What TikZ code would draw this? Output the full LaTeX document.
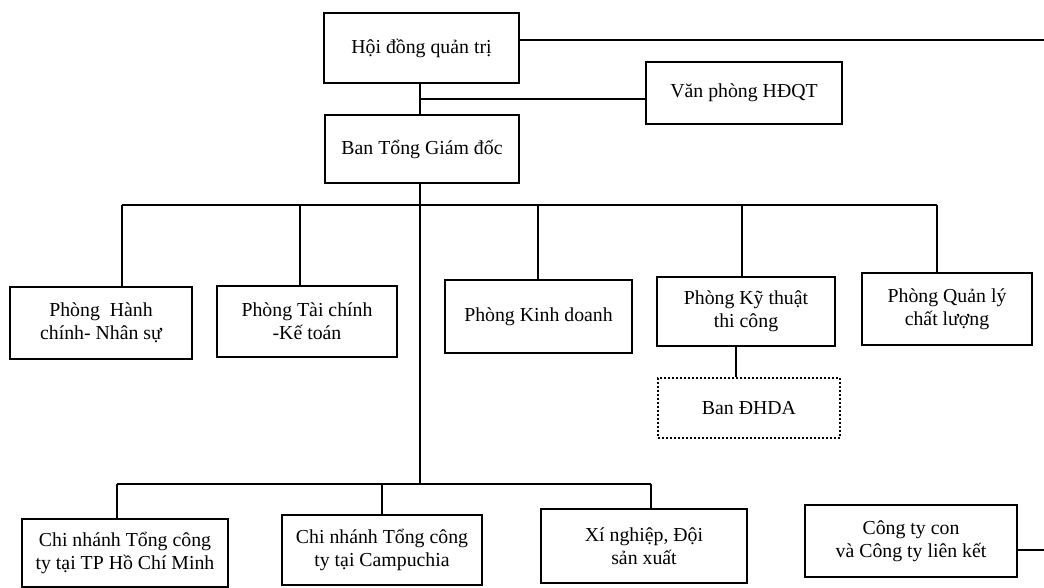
\documentclass[tikz,border=0pt]{standalone}
\usepackage{fontspec}
\setmainfont{Liberation Serif}
\begin{document}
\begin{tikzpicture}[x=1pt,y=-1pt,
  box/.style={draw=black, line width=1.7pt, rectangle, inner sep=0pt, align=center,
    font=\fontsize{19.8}{23}\selectfont, text=black},
  dotbox/.style={box, dash pattern=on 1.8pt off 2.2pt, line width=2.2pt},
  conn/.style={draw=black, line width=1.5pt}]
\fill[white] (0,0) rectangle (1044,588);
\useasboundingbox (0,0) rectangle (1044,588);

% boxes
\node[box, minimum width=195pt, minimum height=70pt] (hdqt) at (421.5,48) {Hội đồng quản trị};
\node[box, minimum width=196pt, minimum height=62pt] (vp) at (744,93) {Văn phòng HĐQT};
\node[box, minimum width=194pt, minimum height=68pt] (btgd) at (422,149) {Ban Tổng Giám đốc};

\node[box, minimum width=182pt, minimum height=72pt] (hcns) at (101,323) {Phòng\ \ Hành\\chính- Nhân sự};
\node[box, minimum width=180pt, minimum height=71pt] (tckt) at (307,321.5) {Phòng Tài chính\\-Kế toán};
\node[box, minimum width=187pt, minimum height=73pt] (kd) at (538.5,316.5) {Phòng Kinh doanh};
\node[box, minimum width=178pt, minimum height=69pt] (ktk) at (746,311.5) {Phòng Kỹ thuật\\thi công};
\node[box, minimum width=170pt, minimum height=72pt] (qlcl) at (947,309) {Phòng Quản lý\\chất lượng};
\node[dotbox, minimum width=182pt, minimum height=60pt] (dhda) at (749,408) {Ban ĐHDA};

\node[box, minimum width=206pt, minimum height=68pt] (hcm) at (125,553) {Chi nhánh Tổng công\\ty tại TP Hồ Chí Minh};
\node[box, minimum width=200pt, minimum height=70pt] (cpc) at (382,550) {Chi nhánh Tổng công\\ty tại Campuchia};
\node[box, minimum width=206pt, minimum height=74pt] (xn) at (644,546) {Xí nghiệp, Đội\\sản xuất};
\node[box, minimum width=212pt, minimum height=72pt] (ctc) at (911,541) {Công ty con\\và Công ty liên kết};

% helper coordinates
\coordinate (topend) at (1044,40);
\coordinate (rend) at (1044,550);
\coordinate (j1) at (420,99);
\coordinate (l) at (0,484);
\coordinate (d1) at (122,205);
\coordinate (d2) at (300,205);
\coordinate (d3) at (538,205);
\coordinate (d4) at (742,205);
\coordinate (d5) at (937,205);
\coordinate (e1) at (117,484);
\coordinate (e2) at (382,484);
\coordinate (e3) at (651,484);
\coordinate (k) at (736,0);

% connectors
\draw[conn] (hdqt.south -| j1) -- (btgd.north -| j1);
\draw[conn] (j1) -- (j1 -| vp.west);
\draw[conn] (topend -| hdqt.east) -- (topend);
\draw[conn] (btgd.south -| j1) -- (l -| j1);
\draw[conn] (d1) -- (d5);
\draw[conn] (d1) -- (d1 |- hcns.north);
\draw[conn] (d2) -- (d2 |- tckt.north);
\draw[conn] (d3) -- (d3 |- kd.north);
\draw[conn] (d4) -- (d4 |- ktk.north);
\draw[conn] (d5) -- (d5 |- qlcl.north);
\draw[conn] (ktk.south -| k) -- (dhda.north -| k);
\draw[conn] (e1) -- (e3);
\draw[conn] (e1) -- (e1 |- hcm.north);
\draw[conn] (e2) -- (e2 |- cpc.north);
\draw[conn] (e3) -- (e3 |- xn.north);
\draw[conn] (rend -| ctc.east) -- (rend);
\end{tikzpicture}
\end{document}
